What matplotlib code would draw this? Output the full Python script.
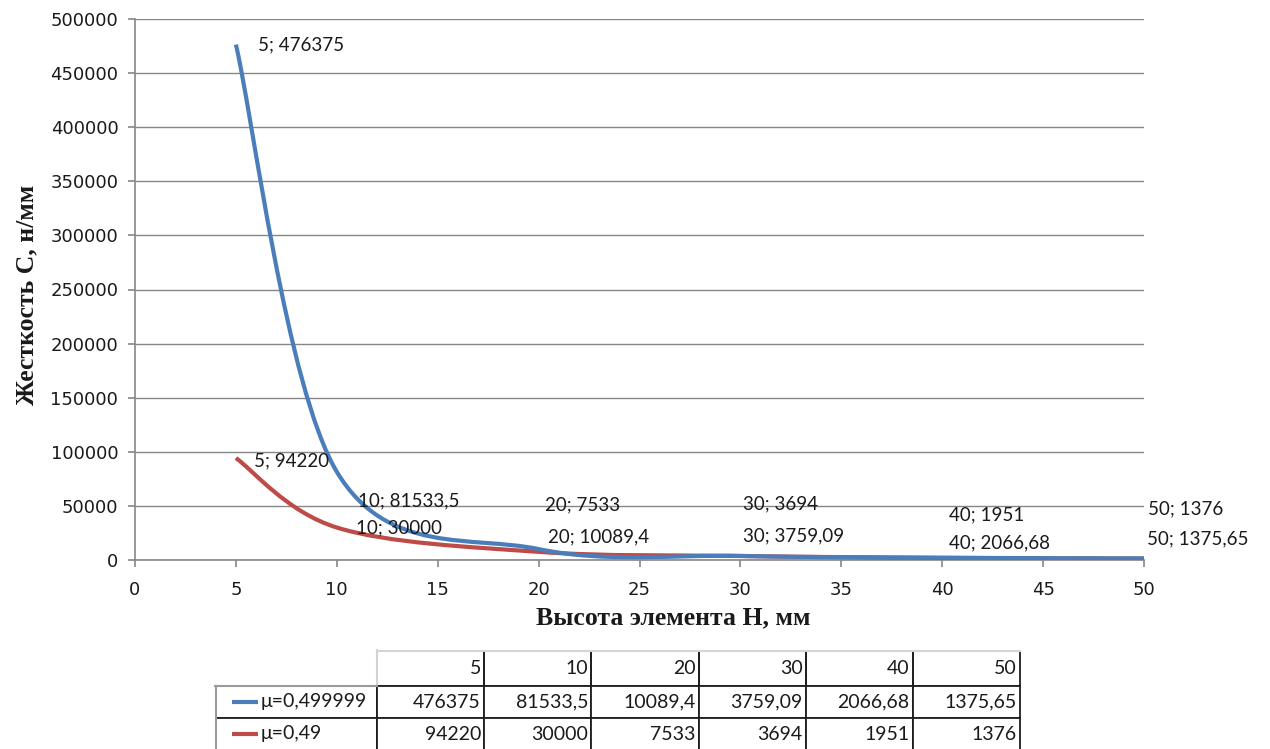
import numpy as np
import matplotlib
matplotlib.use('Agg')
from matplotlib import pyplot as plt
from matplotlib.path import Path
from matplotlib.patches import PathPatch
from matplotlib.table import Table

# данные
heights = [5, 10, 20, 30, 40, 50]
stiff_a = [476375, 81533.5, 10089.4, 3759.09, 2066.68, 1375.65]
stiff_b = [94220, 30000, 7533, 3694, 1951, 1376]
series_names = ['μ=0,499999', 'μ=0,49']
table_a = ['476375', '81533,5', '10089,4', '3759,09', '2066,68', '1375,65']
table_b = ['94220', '30000', '7533', '3694', '1951', '1376']
labels_a = ['5; 476375', '10; 81533,5', '20; 10089,4', '30; 3759,09', '40; 2066,68', '50; 1375,65']
labels_b = ['5; 94220', '10; 30000', '20; 7533', '30; 3694', '40; 1951', '50; 1376']

# смещения подписей (пиксели)
offs_a = [(22, 0), (21, -29), (9, 12), (3, 20), (7, 15), (3, 20)]
offs_b = [(18, -3), (19, 0), (6, 47), (3, 52), (7, 43), (4, 50)]

blue = '#4a7ebb'
red = '#be4b48'
gray = '#868686'
txt = '#1a1a1a'


# сглаженная линия как в Excel (кубические кривые Безье)
def smooth_path(x, y):
    pts = np.column_stack([x, y]).astype(float)
    n = len(pts)
    verts = [pts[0]]
    codes = [Path.MOVETO]
    for i in range(n - 1):
        p0 = pts[max(i - 1, 0)]
        p1 = pts[i]
        p2 = pts[i + 1]
        p3 = pts[min(i + 2, n - 1)]
        c1 = p1 + (p2 - p0) / 6.0
        c2 = p2 - (p3 - p1) / 6.0
        verts += [c1, c2, p2]
        codes += [Path.CURVE4] * 3
    return Path(verts, codes)


def draw_series(ax, x, y, color):
    patch = PathPatch(smooth_path(x, y), facecolor='none', edgecolor=color,
                      lw=3.0, capstyle='butt', joinstyle='round', zorder=3)
    ax.add_patch(patch)


def add_labels(ax, x, y, labels, offs):
    for xi, yi, s, o in zip(x, y, labels, offs):
        ax.annotate(s, (xi, yi), xytext=o, textcoords='offset pixels',
                    ha='left', va='center', fontsize=13.5, family='Lato',
                    color=txt, zorder=4)


def main():
    fig = plt.figure(figsize=(12.7, 7.49), dpi=100)
    W, H = 1270.0, 749.0
    ax = fig.add_axes([135 / W, 1 - 560 / H, (1144 - 135) / W, (560 - 19) / H])
    ax.set_xlim(0, 50)
    ax.set_ylim(0, 500000)
    ax.set_xticks(range(0, 51, 5))
    ax.set_yticks(range(0, 500001, 50000))
    ax.yaxis.grid(True, color=gray, lw=1.0)
    ax.set_axisbelow(True)
    for s in ['top', 'right']:
        ax.spines[s].set_visible(False)
    for s in ['left', 'bottom']:
        ax.spines[s].set_color(gray)
        ax.spines[s].set_linewidth(1.2)
    ax.tick_params(axis='both', direction='out', length=5, width=1.2, color=gray,
                   labelsize=13, labelcolor=txt)
    ax.tick_params(axis='x', pad=10)
    ax.tick_params(axis='y', pad=7)
    for lab in ax.get_xticklabels() + ax.get_yticklabels():
        lab.set_family('DejaVu Sans')

    draw_series(ax, heights, stiff_b, red)
    draw_series(ax, heights, stiff_a, blue)
    add_labels(ax, heights, stiff_a, labels_a, offs_a)
    add_labels(ax, heights, stiff_b, labels_b, offs_b)

    fig.text(673 / W, 1 - 618 / H, 'Высота элемента H, мм', ha='center', va='center',
             fontsize=18.5, fontweight='bold', family='Liberation Serif', color=txt)
    fig.text(27 / W, 1 - 295 / H, 'Жесткость С, н/мм', ha='center', va='center',
             rotation=90, fontsize=18.5, fontweight='bold', family='Liberation Serif', color=txt)

    # таблица данных
    tax = fig.add_axes([215 / W, 1 - 750 / H, (1020 - 215) / W, 100 / H])
    tax.set_xlim(0, 805)
    tax.set_ylim(100, 0)
    tax.axis('off')
    tab = Table(tax, bbox=[0, 0, 1, 1])
    w0 = 162 / 805.0
    wc = (805 - 162) / 6.0 / 805.0
    hh = [0.36, 0.32, 0.32]
    edge = '#1e1e1e'
    for j, h in enumerate(heights):
        c = tab.add_cell(0, j + 1, wc, hh[0], text=str(h), loc='right', edgecolor=edge)
        c.visible_edges = 'BR' if j == 0 else 'BRL'
    for i, (name, vals) in enumerate([(series_names[0], table_a), (series_names[1], table_b)]):
        c = tab.add_cell(i + 1, 0, w0, hh[i + 1], text=name, loc='left', edgecolor=edge)
        c.PAD = 0.28
        c.visible_edges = 'TBR'
        for j, v in enumerate(vals):
            c = tab.add_cell(i + 1, j + 1, wc, hh[i + 1], text=v, loc='right', edgecolor=edge)
    tab.auto_set_font_size(False)
    tab.set_fontsize(14)
    for cell in tab.get_celld().values():
        cell.set_linewidth(1.3)
        if cell.PAD == 0.1:
            cell.PAD = 0.03
        cell.get_text().set_family('Lato')
        cell.get_text().set_color(txt)
    tax.add_table(tab)

    light = '#d4d4d4'
    tax.plot([162, 805], [0.5, 0.5], color=light, lw=1.5, clip_on=False)
    tax.plot([162, 162], [0, 36], color=light, lw=1.5, clip_on=False)
    tax.plot([0.5, 0.5], [36, 100], color='#9a9a9a', lw=1.5, clip_on=False)
    tax.plot([0, 162], [36, 36], color='#9a9a9a', lw=1.5, clip_on=False)
    tax.plot([17, 43], [52, 52], color=blue, lw=3.0, solid_capstyle='butt')
    tax.plot([17, 43], [84, 84], color=red, lw=3.0, solid_capstyle='butt')

    fig.savefig('out.png', dpi=100, facecolor='white')


if __name__ == '__main__':
    main()
